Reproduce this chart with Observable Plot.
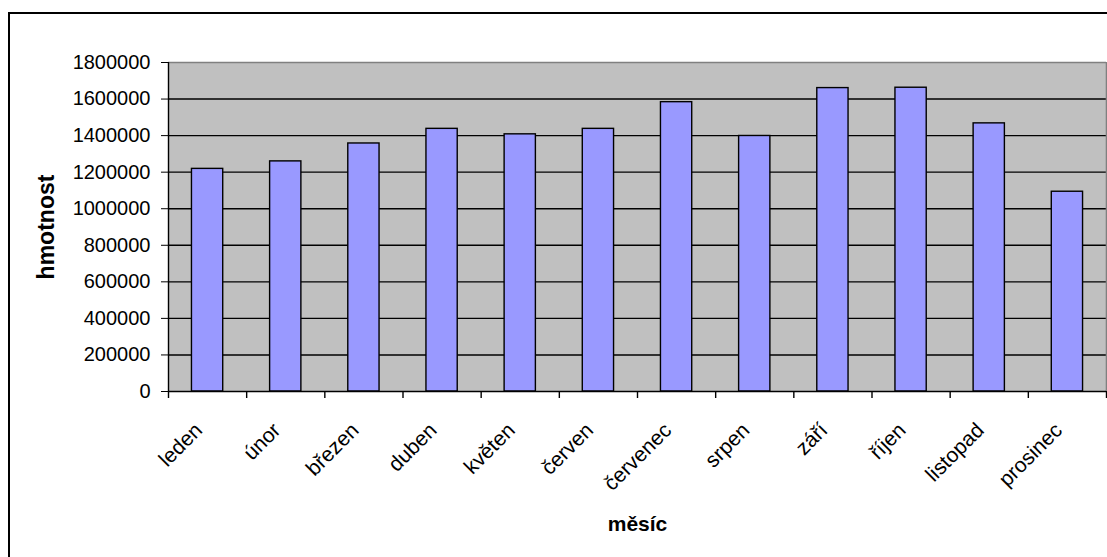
<!DOCTYPE html>
<html>
<head>
<meta charset="utf-8">
<script src="https://cdn.jsdelivr.net/npm/d3@7"></script>
<script src="https://cdn.jsdelivr.net/npm/@observablehq/plot@0.6"></script>
<style>
  html, body { margin: 0; padding: 0; background: #fff; overflow: hidden; }
  #wrap { position: relative; width: 1107px; height: 557px; overflow: hidden; }
  #wrap svg { display: block; background: transparent; }
  #border { position: absolute; left: 8px; top: 12px; width: 1120px; height: 580px;
            border: 2px solid #000; box-sizing: border-box; pointer-events: none; }
</style>
</head>
<body>
<div id="wrap"><div id="border"></div></div>
<script>
// Monthly mass (hmotnost) per month (měsíc)
const months = ["leden", "únor", "březen", "duben", "květen", "červen",
                "červenec", "srpen", "září", "říjen", "listopad", "prosinec"];
const mass = [1218000, 1259000, 1357000, 1437000, 1407000, 1437000,
              1583000, 1398000, 1660000, 1662000, 1467000, 1093000];
const yTicks = [0, 200000, 400000, 600000, 800000, 1000000,
                1200000, 1400000, 1600000, 1800000];
const yTitle = "hmotnost";
const xTitle = "měsíc";

const data = months.map((month, i) => ({month, mass: mass[i]}));

const W = 1107, H = 557;
const mLeft = 168, mRight = 1, mTop = 62, mBottom = 166;
const plotH = H - mTop - mBottom;
const step = (W - mLeft - mRight) / months.length;
const last = months[months.length - 1];
const yMax = yTicks[yTicks.length - 1];

const chart = Plot.plot({
  width: W,
  height: H,
  marginLeft: mLeft,
  marginRight: mRight,
  marginTop: mTop,
  marginBottom: mBottom,
  style: {
    fontFamily: "'Liberation Sans', Arial, sans-serif",
    fontSize: "20px",
    color: "#000",
    background: "transparent"
  },
  x: {type: "band", domain: months, paddingInner: 0.6, paddingOuter: 0.3, round: false, axis: null},
  y: {
    domain: [0, yMax],
    ticks: yTicks,
    tickSize: 7,
    tickPadding: 11,
    tickFormat: d3.format("d"),
    label: null
  },
  marks: [
    // grey plot area
    Plot.frame({fill: "#c0c0c0", stroke: null}),
    // horizontal gridlines
    Plot.ruleY(yTicks.slice(1, -1), {stroke: "#000", strokeWidth: 1.4}),
    // bars
    Plot.barY(data, {x: "month", y: "mass", fill: "#9999ff", stroke: "#000", strokeWidth: 1.4}),
    // plot area border: grey top and right, black axes on the left and bottom
    Plot.ruleY([yMax], {stroke: "#808080", strokeWidth: 1.6}),
    Plot.ruleX([last], {dx: step / 2, stroke: "#808080", strokeWidth: 1.6}),
    Plot.ruleX([months[0]], {dx: -step / 2, stroke: "#000", strokeWidth: 1.4}),
    Plot.ruleY([0], {stroke: "#000", strokeWidth: 1.4}),
    // category ticks between the months
    Plot.tickX(months, {x: d => d, dx: -step / 2, insetTop: plotH, insetBottom: -7, stroke: "#000", strokeWidth: 1.4}),
    Plot.tickX([last], {x: d => d, dx: step / 2, insetTop: plotH, insetBottom: -7, stroke: "#000", strokeWidth: 1.4}),
    // rotated month labels
    Plot.text(months, {
      x: d => d, frameAnchor: "bottom", rotate: -45,
      textAnchor: "end", lineAnchor: "bottom",
      dx: -4, dy: 40, fontSize: 21, fill: "#000"
    }),
    // axis titles
    Plot.text([yTitle], {
      frameAnchor: "left", rotate: -90, textAnchor: "middle", lineAnchor: "bottom",
      dx: -115, fontWeight: "bold", fontSize: 23, fill: "#000"
    }),
    Plot.text([xTitle], {
      frameAnchor: "bottom", textAnchor: "middle", lineAnchor: "bottom",
      dy: 139, fontWeight: "bold", fontSize: 21, fill: "#000"
    })
  ]
});

document.getElementById("wrap").prepend(chart);
</script>
</body>
</html>
